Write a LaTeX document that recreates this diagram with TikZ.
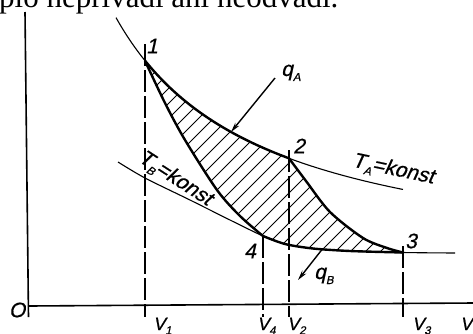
\documentclass[tikz,border=0pt]{standalone}
\usepackage{fontspec}
\setmainfont{Liberation Serif}
\newfontface\lab{Liberation Sans}[FakeSlant=0.22, FakeBold=0.6]
\usetikzlibrary{arrows.meta}
\newcommand{\lsub}[1]{\raisebox{-0.45ex}{\fontsize{11.5}{11.5}\selectfont #1}}
\begin{document}
\begin{tikzpicture}[x=1pt,y=-1pt,
  thinc/.style={line width=1.1pt},
  thickc/.style={line width=2.4pt, line join=round, line cap=round},
  hatchl/.style={line width=0.8pt},
  vline/.style={line width=1.1pt, dash pattern=on 22pt off 4pt},
  axisl/.style={line width=1.6pt},
  arr/.style={line width=1.4pt, -{Stealth[length=10pt,width=5pt]}},
  lbl/.style={font=\lab\fontsize{21}{21}\selectfont, inner sep=0pt},
  vlbl/.style={font=\lab\fontsize{18}{18}\selectfont, inner sep=0pt, anchor=base west},
]
\useasboundingbox (0,0) rectangle (473,333);
\fill[white] (0,0) rectangle (473,333);
\clip (0,0) rectangle (473,333);

% cropped line of text at the top
\node[anchor=base west, inner sep=0pt, font=\fontsize{31}{31}\selectfont] (toptext) at (-1,7) {plo nepřivádí ani neodvádí.};

% axes
\coordinate (ytop) at (25,12);
\coordinate (ybot) at (28.5,317);
\coordinate (xl) at (28.5,306);
\coordinate (xr) at (473,303);
\draw[axisl] (ytop) -- (ybot);
\draw[axisl] (xl) -- (xr);

% cycle points
\coordinate (P1) at (145,60.8);
\coordinate (P2) at (289,158.3);
\coordinate (P3) at (403,252.5);
\coordinate (P4) at (263,236);

% hatching
\begin{scope}
\clip plot[domain=145:289,samples=40] (\x,{276.5-376.17/(0.01*\x+0.2937)})
  -- plot[smooth] coordinates {(289,158.3) (306,181) (330,212) (363,238) (387,248) (403,252.5)}
  -- plot[smooth] coordinates {(403,252.5) (350,251) (313,248.5) (285,244) (263,236)}
  -- plot[smooth] coordinates {(263,236) (240,216) (217,190) (185,140) (165,103) (145,60.8)} -- cycle;
\foreach \c in {212,227,...,670} \draw[hatchl] (\c,0) -- ++(-400,400);
\end{scope}

% isotherm T_A
\draw[thinc] plot[domain=116:403,samples=80] (\x,{276.5-376.17/(0.01*\x+0.2937)});
\draw[thickc] plot[domain=145:289,samples=50] (\x,{276.5-376.17/(0.01*\x+0.2937)});
% isotherm T_B
\draw[thinc] plot[smooth] coordinates {(118,162) (145,178) (190,200) (230,220) (263,236) (285,244) (313,248.5) (350,251) (403,252.5) (455,253)};
\draw[thickc] plot[smooth] coordinates {(263,236) (285,244) (313,248.5) (350,251) (403,252.5)};
% adiabats
\draw[thickc] plot[smooth] coordinates {(145,60.8) (165,103) (185,140) (217,190) (240,216) (263,236)};
\draw[thickc] plot[smooth] coordinates {(289,158.3) (306,181) (330,212) (363,238) (387,248) (403,252.5)};

% dashed verticals
\coordinate (v1t) at (145,44);  \coordinate (v1b) at (145,317);
\coordinate (v4t) at (263,236); \coordinate (v4b) at (263,317);
\coordinate (v2t) at (289,150); \coordinate (v2b) at (289,317);
\coordinate (v3t) at (403,246); \coordinate (v3b) at (403,317);
\draw[vline] (v1t) -- (v1b);
\draw[vline] (v4t) -- (v4b);
\draw[vline] (v2t) -- (v2b);
\draw[vline] (v3t) -- (v3b);

% heat arrows
\coordinate (qAs) at (275,78);  \coordinate (qAe) at (231,132);
\draw[arr] (qAs) -- (qAe);
\coordinate (qBs) at (322,249.5); \coordinate (qBe) at (298,280);
\draw[arr] (qBs) -- (qBe);

% labels
\node[lbl] (n1) at (152,46) {1};
\node[lbl] (n2) at (299,146) {2};
\node[lbl] (n3) at (411,241) {3};
\node[lbl] (n4) at (250,251) {4};
\node[lbl] (nO) at (17,310) {O};
\node[lbl, anchor=base west] (qA) at (281,76) {q\lsub{A}};
\node[lbl, anchor=base west] (qB) at (314,279) {q\lsub{B}};
\node[lbl, rotate=-12] (TA) at (393,170) {T\lsub{A}=konst};
\node[lbl, rotate=-33] (TB) at (175,179) {T\lsub{B}=konst};
\node[vlbl] (lv1) at (153,330) {V\lsub{1}};
\node[vlbl] (lv4) at (257,330) {V\lsub{4}};
\node[vlbl] (lv2) at (287,330) {V\lsub{2}};
\node[vlbl] (lv3) at (412,330) {V\lsub{3}};
\node[vlbl] (lV) at (460,330) {V};
\end{tikzpicture}
\end{document}
